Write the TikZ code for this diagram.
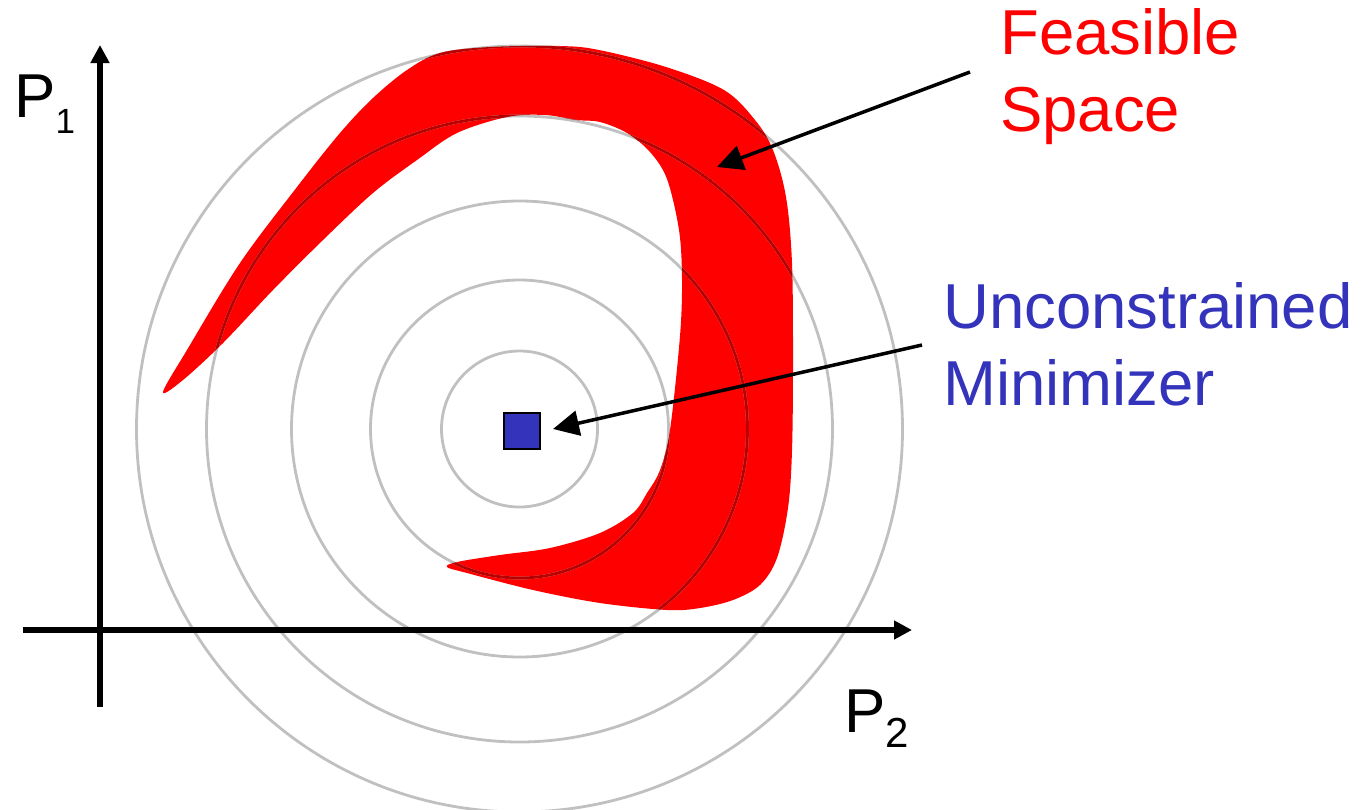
\documentclass[tikz,border=0pt]{standalone}
\usepackage{fontspec}
\setmainfont{Liberation Sans}
\usetikzlibrary{arrows.meta}
\definecolor{redfill}{RGB}{255,0,0}
\definecolor{circgray}{RGB}{192,192,192}
\definecolor{circdark}{RGB}{185,0,0}
\definecolor{minblue}{RGB}{51,51,187}
\begin{document}
\begin{tikzpicture}[x=1pt,y=-1pt,
  ring/.style={circgray, line width=2.8pt},
  ringdark/.style={circdark, line width=2.8pt},
  axis/.style={line width=6pt, -{Triangle[length=18pt,width=18pt]}},
  callout/.style={line width=3.5pt, -{Triangle[length=26pt,width=25pt]}},
  lbl/.style={inner sep=0pt, anchor=base west, align=left, font=\fontsize{63.5}{77}\selectfont},
  sqnode/.style={draw=black, line width=1.5pt, fill=minblue, minimum size=36pt, inner sep=0pt}]
\useasboundingbox (0,0) rectangle (1363,809);
\def\feasiblepath{plot[smooth cycle, tension=0.55] coordinates {
 (163,392) (187,350) (240,263) (297,187) (340,133) (373,98) (407,70) (440,53) (490,47) (560,46)
 (599,50) (666,67) (724,90) (755,120) (773,150) (786,197) (792,263) (793,363) (792,451) (788,508)
 (777,558) (760,585) (733,600) (700,608) (667,610) (600,603) (533,590) (467,573) (447,567)
 (457,562) (500,555) (550,548) (600,533) (633,513) (647,493) (660,470) (670,430) (680,336)
 (682,279) (679,230) (667,179) (650,152) (627,133) (600,122) (576,120) (545,115) (507,117)
 (457,133) (417,160) (373,193) (323,240) (273,290) (223,343) (183,380)}}
% feasible region
\fill[redfill] \feasiblepath;
% contour circles
\coordinate (c) at (519.5,429);
\foreach \r in {78,149,228,313,383} \draw[ring] (c) circle[radius=\r pt];
\begin{scope}
  \clip \feasiblepath;
  \foreach \r in {78,149,228,313,383} \draw[ringdark] (c) circle[radius=\r pt];
\end{scope}
% axes
\coordinate (yb) at (100,707);
\coordinate (yt) at (100,45);
\coordinate (xl) at (23,630);
\coordinate (xr) at (912,630);
\draw[axis] (yb) -- (yt);
\draw[axis] (xl) -- (xr);
% axis labels
\node[inner sep=0pt, anchor=base west, font=\fontsize{62}{62}\selectfont] (p1) at (14,117)
  {P\raisebox{-16pt}{\fontsize{35}{35}\selectfont 1}};
\node[inner sep=0pt, anchor=base west, font=\fontsize{62}{62}\selectfont] (p2) at (844,732)
  {P\raisebox{-15pt}{\fontsize{42}{42}\selectfont 2}};
% minimizer
\node[sqnode] (minimizer) at (522,431) {};
% labels (base anchor = baseline of the last line)
\node[lbl, text=redfill] (feas) at (1000,131) {Feasible\\Space};
\node[lbl, text=minblue] (uncon) at (943,405) {Unconstrained\\Minimizer};
% callout arrows
\coordinate (fs) at (970,72);
\coordinate (ft) at (717,167);
\coordinate (ms) at (922,345);
\coordinate (mt) at (553,429);
\draw[callout] (fs) -- (ft);
\draw[callout] (ms) -- (mt);
\end{tikzpicture}
\end{document}
